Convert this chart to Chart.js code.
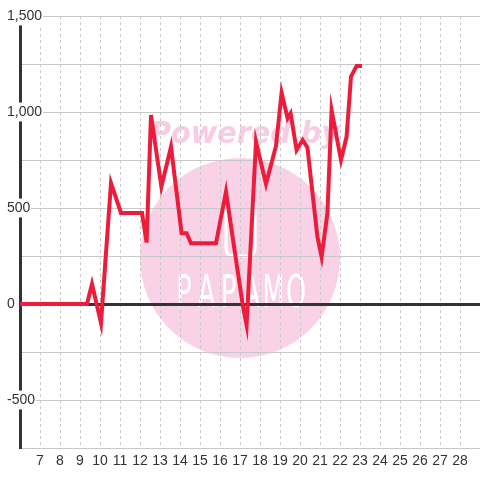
<!DOCTYPE html>
<html>
<head>
<meta charset="utf-8">
<script src="https://cdn.jsdelivr.net/npm/chart.js@4"></script>
<style>
  html, body { margin: 0; padding: 0; background: #fff; }
</style>
</head>
<body>
<canvas id="chart" width="480" height="480"></canvas>
<script>
// series
const xValues = [6, 9.35, 9.6, 10.05, 10.55, 11.05, 12.1, 12.33, 12.55, 13.07,
  13.55, 14.08, 14.33, 14.55, 15.8, 16.3, 16.7, 17.15, 17.33, 17.8,
  18.3, 18.8, 19.08, 19.38, 19.53, 19.83, 20.13, 20.37, 20.87, 21.08,
  21.37, 21.58, 22.05, 22.33, 22.55, 22.83, 23.1];
const yValues = [0, 0, 104, -99, 630, 474, 474, 320, 984, 611,
  819, 369, 369, 316, 316, 585, 300, -14, -109, 845,
  625, 823, 1100, 967, 993, 802, 854, 816, 351, 246,
  472, 1010, 750, 872, 1184, 1240, 1240];
const xTickLabels = [7, 8, 9, 10, 11, 12, 13, 14, 15, 16, 17, 18, 19, 20, 21, 22, 23, 24, 25, 26, 27, 28];
const yTickLabels = [-500, 0, 500, 1000, 1500];

const points = xValues.map((x, i) => ({ x: x, y: yValues[i] }));

// pink "Powered by PAPAMO" badge behind the grid
const watermark = {
  id: 'watermark',
  beforeDraw(chart) {
    const ctx = chart.ctx;
    ctx.save();
    ctx.fillStyle = '#fad2e8';
    ctx.beginPath();
    ctx.arc(240, 258, 100, 0, Math.PI * 2);
    ctx.fill();

    ctx.fillStyle = '#f9cce4';
    ctx.font = 'italic bold 31px "DejaVu Sans"';
    ctx.textBaseline = 'alphabetic';
    const w = ctx.measureText('Powered by').width;
    ctx.translate(150, 143);
    ctx.scale(190 / w, 1);
    ctx.fillText('Powered by', 0, 0);
    ctx.restore();

    ctx.save();
    ctx.strokeStyle = '#ffffff';
    ctx.lineWidth = 3;
    ctx.beginPath();
    ctx.moveTo(226, 202);
    ctx.lineTo(226, 248);
    ctx.quadraticCurveTo(226, 256, 234, 256);
    ctx.lineTo(247, 256);
    ctx.quadraticCurveTo(255, 256, 255, 248);
    ctx.lineTo(255, 202);
    ctx.stroke();

    ctx.fillStyle = '#ffffff';
    ctx.font = '44px "DejaVu Sans"';
    ctx.textAlign = 'center';
    ctx.textBaseline = 'alphabetic';
    'PAPAMO'.split('').forEach((ch, i) => {
      ctx.save();
      ctx.translate(184 + i * 22.4, 307);
      ctx.scale(0.58, 1);
      ctx.fillText(ch, 0, 0);
      ctx.restore();
    });
    ctx.restore();
  }
};

const config = {
  type: 'line',
  data: {
    datasets: [{
      data: points,
      borderColor: '#ed1c3a',
      borderWidth: 4,
      pointRadius: 0,
      pointBorderWidth: 0,
      tension: 0,
      fill: false
    }]
  },
  options: {
    responsive: false,
    animation: false,
    layout: { padding: { top: 16, left: 20, right: 0, bottom: 0 } },
    plugins: {
      legend: { display: false },
      tooltip: { enabled: false }
    },
    scales: {
      x: {
        type: 'linear',
        min: 6,
        max: 29,
        afterFit(scale) {
          scale.height = 32;
          scale.paddingLeft = 0;
          scale.paddingRight = 0;
        },
        grid: {
          drawTicks: false,
          color: ctx => (xTickLabels.includes(ctx.tick.value) ? '#c8c8c8' : 'rgba(0,0,0,0)'),
          lineWidth: 1
        },
        border: { color: '#c8c8c8', width: 1, dash: [3, 3] },
        ticks: {
          stepSize: 1,
          autoSkip: false,
          maxRotation: 0,
          padding: 5,
          color: '#333',
          font: { family: 'Liberation Sans', size: 14 },
          callback: v => (xTickLabels.includes(v) ? String(v) : '')
        }
      },
      y: {
        min: -750,
        max: 1500,
        afterFit(scale) { scale.width = 0; },
        grid: {
          drawTicks: false,
          color: ctx => (ctx.tick.value === 0 ? '#333' : '#c8c8c8'),
          lineWidth: ctx => (ctx.tick.value === 0 ? 3 : 1)
        },
        border: { color: '#333', width: 3 },
        ticks: {
          stepSize: 250,
          autoSkip: false,
          mirror: true,
          padding: -13,
          color: '#333',
          font: { family: 'Liberation Sans', size: 14 },
          showLabelBackdrop: ctx => yTickLabels.includes(ctx.tick.value),
          backdropColor: '#ffffff',
          backdropPadding: 1,
          callback: v => (yTickLabels.includes(v) ? v.toLocaleString('en-US') : '')
        }
      }
    }
  },
  plugins: [watermark]
};

const myChart = new Chart(document.getElementById('chart'), config);
</script>
</body>
</html>
